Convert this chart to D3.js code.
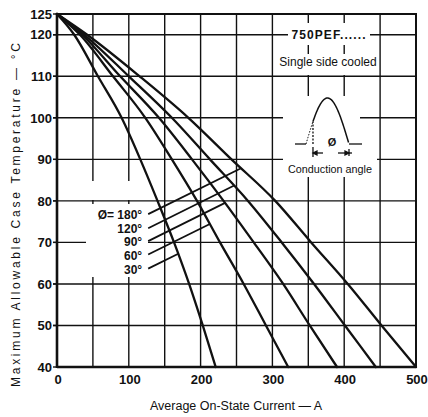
<!DOCTYPE html>
<html><head><meta charset="utf-8">
<script src="https://cdn.jsdelivr.net/npm/d3@7"></script>
<style>body{margin:0;background:#fff} svg{display:block} text{font-family:"Liberation Sans",Arial,sans-serif;fill:#111}</style>
</head><body><svg id="c" width="428" height="417"></svg>
<script>
// ---- data ----
const tempLevels = [125,120,110,100,90,80,70,60,50,40];
const cur30  = [0,24,57,90,116,140,163,184,203,221];
const cur60  = [0,32,78,123,160,195,227,260,291,322];
const cur90  = [0,35,88,142,188,232,274,315,352,390];
const cur120 = [0,38,100,160,213,266,313,358,401,444];
const cur180 = [0,42,115,183,243,304,354,405,452,500];
const angleLabels = ["\u00D8= 180\u00B0","120\u00B0","90\u00B0","60\u00B0","30\u00B0"];
const labelTemps = [76.8,73.4,70.3,67.1,63.7];
const labelCurrent = 127;
const xTicks = [0,100,200,300,400,500];
const yTicks = [125,120,110,100,90,80,70,60,50,40];
const xGrid = [50,100,150,200,250,300,350,400,450];
const yGrid = [120,110,100,90,80,70,60,50];

const seriesCur = [cur180,cur120,cur90,cur60,cur30];

const svg = d3.select("#c");
const x = d3.scaleLinear().domain([0,500]).range([57,416]);
const y = d3.scaleLinear().domain([40,125]).range([367,14]);

// grid - verticals
const gv = svg.append("g").attr("stroke","#111").attr("stroke-width",1.4);
xGrid.forEach(v=>gv.append("line").attr("x1",x(v)).attr("x2",x(v)).attr("y1",y(125)).attr("y2",y(40)));
// white masks over verticals only
const wm = svg.append("g").attr("fill","#fff");
wm.append("rect").attr("x",86).attr("y",181).attr("width",62).attr("height",19);
wm.append("rect").attr("x",289).attr("y",54).attr("width",90).attr("height",21);
// horizontals
const gh = svg.append("g").attr("stroke","#111").attr("stroke-width",1.4);
yGrid.forEach(v=>gh.append("line").attr("x1",x(0)-4).attr("x2",x(500)).attr("y1",y(v)).attr("y2",y(v)));
// masks over both
const wm2 = svg.append("g").attr("fill","#fff");
wm2.append("rect").attr("x",86).attr("y",204).attr("width",62).attr("height",73);
wm2.append("rect").attr("x",288).attr("y",23).attr("width",82).attr("height",22);
wm2.append("rect").attr("x",283).attr("y",96).attr("width",77).attr("height",56);
wm2.append("rect").attr("x",283).attr("y",152).attr("width",94).attr("height",25);

// curves
const line = d3.line().x(d=>x(d.a)).y(d=>y(d.t)).curve(d3.curveMonotoneX);
const paths = seriesCur.map(c=>{
  const pts = c.map((a,i)=>({a:a,t:tempLevels[i]}));
  return svg.append("path").datum(pts).attr("d",line).attr("fill","none")
    .attr("stroke","#111").attr("stroke-width",2.3).attr("stroke-linecap","round");
});

// leaders + labels
angleLabels.forEach((lab,i)=>{
  const x0 = x(labelCurrent), y0 = y(labelTemps[i]);
  const node = paths[i].node();
  const L = node.getTotalLength();
  let prev=null, hit=null;
  for(let s=0;s<=L;s+=0.5){
    const p=node.getPointAtLength(s);
    const f=(p.y-y0)+0.5*(p.x-x0);
    if(prev!==null && prev.f<0 && f>=0 && p.x>x0){hit=p;break;}
    prev={f:f};
  }
  if(!hit){hit={x:x0+60,y:y0-30};}
  svg.append("line").attr("x1",x0).attr("y1",y0).attr("x2",hit.x).attr("y2",hit.y)
    .attr("stroke","#111").attr("stroke-width",1.8);
  svg.append("text").attr("x",x0-6).attr("y",y0+1).attr("dy","0.35em")
    .attr("text-anchor","end").attr("font-size",12).attr("font-weight","bold").text(lab);
});

// annotations top-right
svg.append("text").attr("x",329).attr("y",35).attr("dy","0.35em").attr("text-anchor","middle")
  .attr("font-size",12).attr("font-weight","bold").attr("letter-spacing",1.1).text("750PEF......");
svg.append("text").attr("x",328).attr("y",62).attr("dy","0.35em").attr("text-anchor","middle")
  .attr("font-size",12).text("Single side cooled");

// inset waveform
const ins = svg.append("g").attr("stroke","#111").attr("fill","none").attr("stroke-width",1.3);
const wx = d3.scaleLinear().domain([0,Math.PI]).range([306,349]);
const base = 144, amp = 46, fire = 0.51;
const sinePts = d3.range(fire, Math.PI+0.001, 0.05).map(p=>[wx(Math.min(p,Math.PI)), base-amp*Math.sin(Math.min(p,Math.PI))]);
ins.append("path").attr("d",d3.line()(sinePts)).attr("stroke-width",1.5);
const prePts = d3.range(0, fire+0.001, 0.05).map(p=>[wx(p), base-amp*Math.sin(p)]);
ins.append("path").attr("d",d3.line()(prePts)).attr("stroke-dasharray","1.5,1.5").attr("stroke-width",1);
ins.append("line").attr("x1",wx(fire)).attr("x2",wx(fire)).attr("y1",base).attr("y2",base-amp*Math.sin(fire)).attr("stroke-dasharray","2,1.5");
ins.append("line").attr("x1",295).attr("x2",wx(0)).attr("y1",base).attr("y2",base);
ins.append("line").attr("x1",wx(Math.PI)).attr("x2",362).attr("y1",base).attr("y2",base);
// dimension
const dy = 153;
ins.append("line").attr("x1",wx(fire)).attr("x2",wx(fire)).attr("y1",147).attr("y2",157);
ins.append("line").attr("x1",wx(fire)).attr("x2",wx(fire)+10).attr("y1",dy).attr("y2",dy);
ins.append("path").attr("d",`M${wx(fire)},${dy} l4,-2 l0,4 z`).attr("fill","#111");
ins.append("line").attr("x1",wx(Math.PI)).attr("x2",wx(Math.PI)).attr("y1",149).attr("y2",156);
ins.append("line").attr("x1",wx(Math.PI)-11).attr("x2",wx(Math.PI)+3).attr("y1",dy).attr("y2",dy);
ins.append("path").attr("d",`M${wx(Math.PI)},${dy} l-4,-2 l0,4 z`).attr("fill","#111");
svg.append("text").attr("x",332).attr("y",142).attr("dy","0.35em").attr("text-anchor","middle")
  .attr("font-size",11).attr("font-weight","bold").text("\u00D8");
svg.append("text").attr("x",330).attr("y",169).attr("dy","0.35em").attr("text-anchor","middle")
  .attr("font-size",10.8).text("Conduction angle");

// frame
const fr = svg.append("g").attr("stroke","#111");
fr.append("line").attr("x1",x(0)).attr("x2",x(500)).attr("y1",y(125)).attr("y2",y(125)).attr("stroke-width",2.2);
fr.append("line").attr("x1",x(0)).attr("x2",x(500)).attr("y1",y(40)).attr("y2",y(40)).attr("stroke-width",2.6);
fr.append("line").attr("x1",x(0)).attr("x2",x(0)).attr("y1",y(125)-1).attr("y2",y(40)+1).attr("stroke-width",2.6);
fr.append("line").attr("x1",x(500)).attr("x2",x(500)).attr("y1",y(125)-1).attr("y2",y(40)+1).attr("stroke-width",2);
yTicks.forEach(v=>fr.append("line").attr("x1",x(0)-4).attr("x2",x(0)).attr("y1",y(v)).attr("y2",y(v)).attr("stroke-width",1.4));

// tick labels
yTicks.forEach(v=>svg.append("text").attr("x",x(0)-5).attr("y",y(v)).attr("dy","0.36em")
  .attr("text-anchor","end").attr("font-size",13).attr("font-weight","bold").text(v));
xTicks.forEach(v=>svg.append("text").attr("x",x(v)+1).attr("y",384)
  .attr("text-anchor","middle").attr("font-size",13).attr("font-weight","bold").text(v));

// axis titles
svg.append("text").attr("x",236).attr("y",410).attr("text-anchor","middle")
  .attr("font-size",12.5).text("Average On-State Current \u2014 A");
svg.append("text").attr("transform","translate(20,215) rotate(-90)").attr("text-anchor","middle")
  .attr("font-size",12).attr("textLength",344).attr("lengthAdjust","spacing")
  .text("Maximum Allowable Case Temperature \u2014 \u00B0C");
</script></body></html>
